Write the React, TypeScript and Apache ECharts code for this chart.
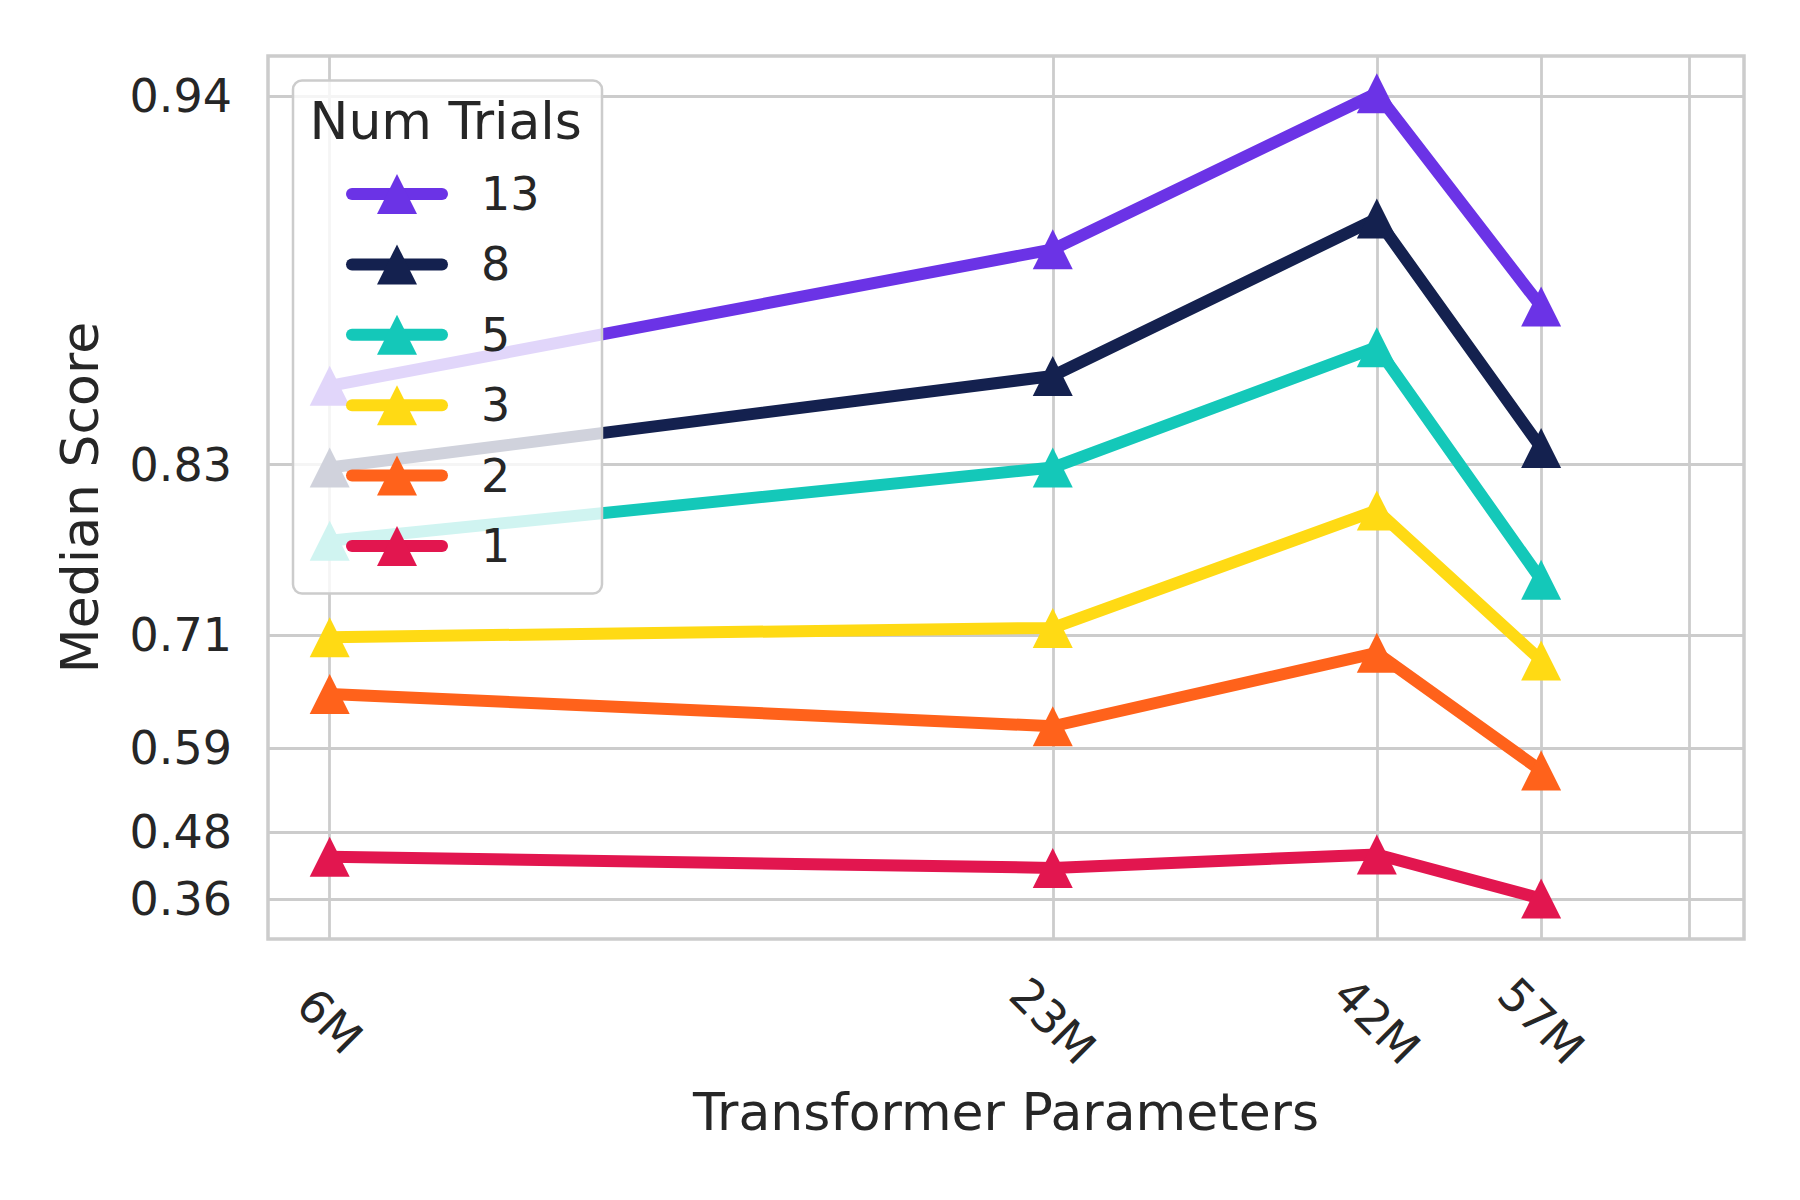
import React, { useEffect, useRef } from "react";
import * as echarts from "echarts";

// ---- data ----
const params = [6, 23, 42, 57]; // millions of transformer parameters
const xTickLabels = ["6M", "23M", "42M", "57M"];
const xExtraGridParam = [75]; // unlabeled grid line
const trialNames = ["13", "8", "5", "3", "2", "1"];
const scores13 = [0.863, 0.909, 0.943, 0.892];
const scores8 = [0.825, 0.867, 0.917, 0.835];
const scores5 = [0.782, 0.825, 0.878, 0.755];
const scores3 = [0.709, 0.717, 0.801, 0.688];
const scores2 = [0.655, 0.62, 0.695, 0.566];
const scores1 = [0.438, 0.419, 0.442, 0.363];
const seriesColors = ["#6B33E6", "#14214F", "#14C8B9", "#FFDA14", "#FF621B", "#E2164F"];
const yTickValues = [0.3625, 0.4785, 0.5945, 0.7105, 0.8265, 0.9425];
const yTickLabels = ["0.36", "0.48", "0.59", "0.71", "0.83", "0.94"];

// axis transforms (log10 for x, -ln(1-y) for y)
const tx = (p: number) => Math.log10(p);
const ty = (v: number) => -Math.log(1 - v);

const FONT = "DejaVu Sans";
const TEXT = "#262626";
const GRID = "#cccccc";
const LINE_W = 12;

export default function App() {
  const ref = useRef<HTMLDivElement>(null);
  useEffect(() => {
    if (!ref.current) return;
    const chart = echarts.init(ref.current, undefined, { renderer: "svg" });
    const allScores = [scores13, scores8, scores5, scores3, scores2, scores1];
    const yZ = yTickValues.map(ty);
    const span = yZ[yZ.length - 1] - yZ[0];
    const xTickZ = params.map(tx);
    const xGridZ = [...params, ...xExtraGridParam].map(tx);

    const option: any = {
      animation: false,
      backgroundColor: "#ffffff",
      grid: {
        left: 268,
        right: 56,
        top: 56,
        bottom: 261,
        show: true,
        borderColor: GRID,
        borderWidth: 3.5,
        backgroundColor: "transparent",
      },
      xAxis: {
        type: "value",
        min: tx(5.35),
        max: tx(83.1),
        name: "Transformer Parameters",
        nameLocation: "middle",
        nameGap: 147,
        nameTextStyle: { fontFamily: FONT, fontSize: 52, color: TEXT },
        axisLine: { show: false },
        axisTick: { show: false, customValues: xGridZ },
        splitLine: { show: true, lineStyle: { color: GRID, width: 2.8 } },
        axisLabel: {
          customValues: xTickZ,
          rotate: -45,
          align: "center",
          verticalAlign: "middle",
          margin: 82,
          fontFamily: FONT,
          fontSize: 46,
          color: TEXT,
          formatter: (v: number) => {
            const i = xTickZ.findIndex((z) => Math.abs(z - v) < 1e-6);
            return i >= 0 ? xTickLabels[i] : "";
          },
        },
      },
      yAxis: {
        type: "value",
        min: yZ[0] - 0.05 * span,
        max: yZ[yZ.length - 1] + 0.05 * span,
        name: "Median Score",
        nameLocation: "middle",
        nameGap: 162,
        nameRotate: 90,
        nameTextStyle: { fontFamily: FONT, fontSize: 52, color: TEXT },
        axisLine: { show: false },
        axisTick: { show: false, customValues: yZ },
        splitLine: { show: true, lineStyle: { color: GRID, width: 2.8 } },
        axisLabel: {
          customValues: yZ,
          margin: 36,
          fontFamily: FONT,
          fontSize: 46,
          color: TEXT,
          formatter: (v: number) => {
            const i = yZ.findIndex((z) => Math.abs(z - v) < 1e-6);
            return i >= 0 ? yTickLabels[i] : "";
          },
        },
      },
      legend: {
        orient: "vertical",
        left: 346,
        top: 171,
        padding: 0,
        itemWidth: 90,
        itemHeight: 50,
        itemGap: 24.4,
        z: 6,
        data: trialNames,
        lineStyle: { cap: "round", width: LINE_W },
        textStyle: {
          fontFamily: FONT,
          fontSize: 46,
          color: TEXT,
          padding: [0, 0, 0, 34],
        },
      },
      graphic: [
        {
          type: "rect",
          z: 4,
          shape: { x: 293, y: 80.5, width: 309, height: 513, r: 9 },
          style: { fill: "rgba(255,255,255,0.8)", stroke: GRID, lineWidth: 2.5 },
        },
        {
          type: "text",
          z: 5,
          x: 309.5,
          y: 121,
          style: {
            text: "Num Trials",
            fontFamily: FONT,
            fontSize: 52,
            fill: TEXT,
            align: "left",
            verticalAlign: "middle",
          },
        },
      ],
      series: trialNames.map((name, si) => ({
        type: "line",
        name,
        data: params.map((p, i) => [tx(p), ty(allScores[si][i])]),
        symbol: "triangle",
        symbolSize: 40,
        showSymbol: true,
        color: seriesColors[si],
        lineStyle: { width: LINE_W, color: seriesColors[si] },
        itemStyle: { color: seriesColors[si], borderWidth: 0 },
        emphasis: { disabled: true },
        z: 2,
      })),
    };
    chart.setOption(option);
    return () => chart.dispose();
  }, []);
  return (
    <div
      ref={ref}
      style={{ position: "fixed", left: 0, top: 0, width: 1800, height: 1200, background: "#fff" }}
    />
  );
}
